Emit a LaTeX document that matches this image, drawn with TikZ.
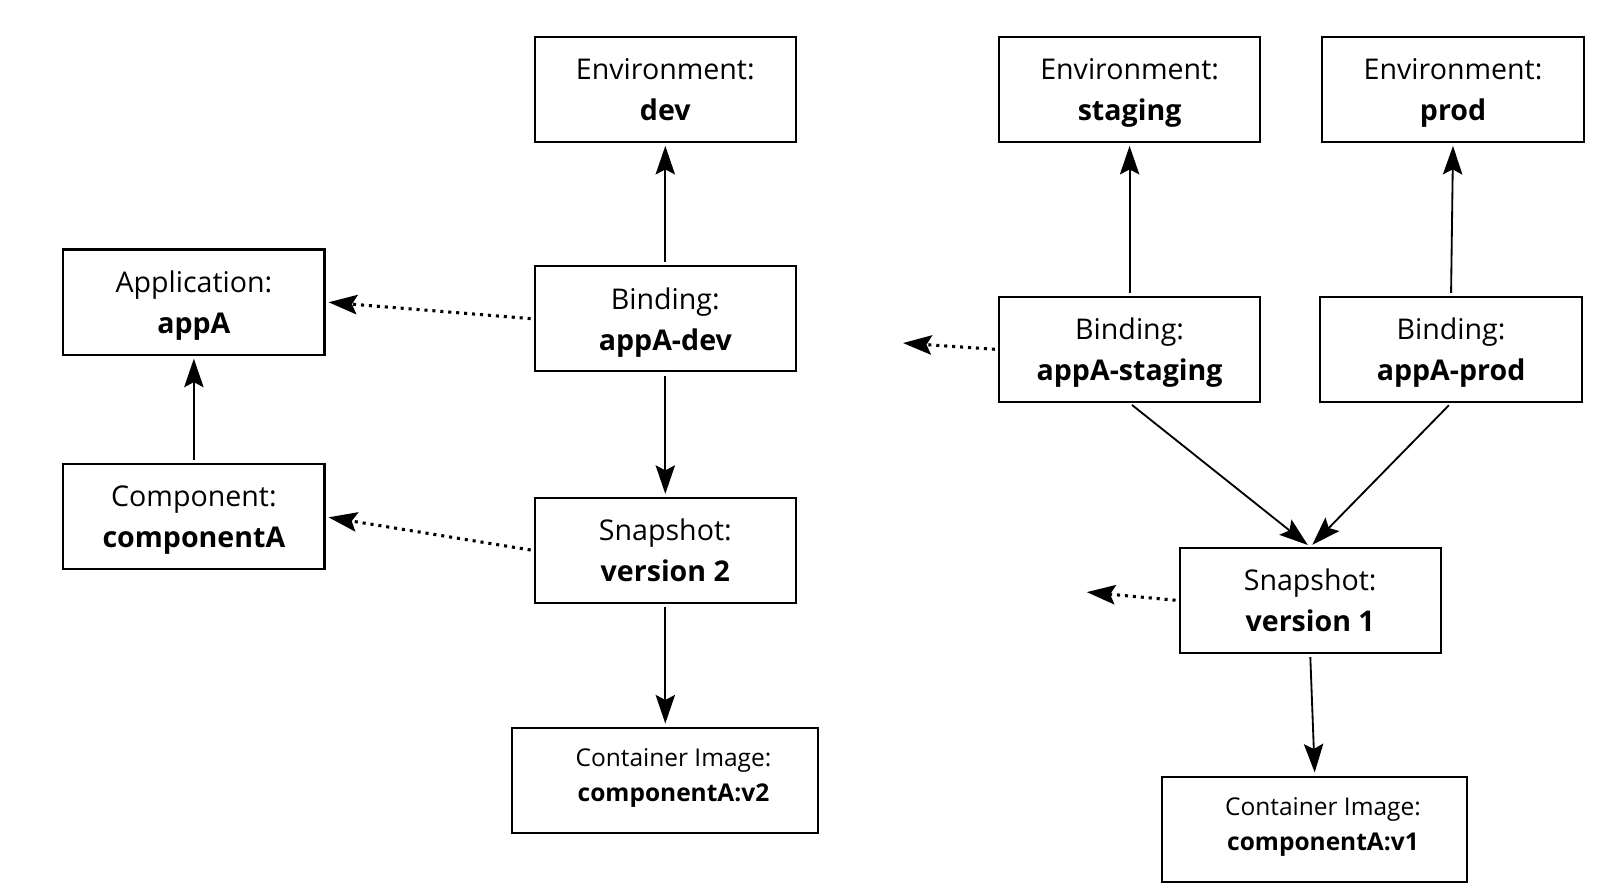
\documentclass[tikz,border=0pt]{standalone}
\usepackage{fontspec}
\setmainfont{Open Sans}
\usetikzlibrary{arrows.meta}
\tikzset{
	obj/.style={draw, line width=1pt, minimum width=128pt, minimum height=51.5pt, inner sep=0pt, align=center, text depth=0pt, font=\fontsize{14}{20}\selectfont},
	imgobj/.style={obj, minimum width=150pt, text depth=5pt, font=\fontsize{12}{17}\selectfont},
	ref/.style={-{Stealth[length=14pt,width=9.5pt,inset=2.5pt]}, line width=0.9pt, shorten >=1.5pt, shorten <=1.5pt},
	weakref/.style={ref, line width=1.5pt, dash pattern=on 1.5pt off 2.4pt}
}
\def\imgline#1{\hspace*{8pt}#1}

\begin{document}
\begin{tikzpicture}[x=0.5pt, y=-0.5pt]
			%%%%% START %%%%%
			\useasboundingbox (0, 0) rectangle (1568, 876);
			
			% dev side
			\node[obj] (envdev) at (652, 87.5) {Environment:\\\textbf{dev}};
			\node[obj] (app) at (190, 296) {Application:\\\textbf{appA}};
			\node[obj] (bdev) at (652, 312.5) {Binding:\\\textbf{appA-dev}};
			\node[obj] (comp) at (190, 506.5) {Component:\\\textbf{componentA}};
			\node[obj] (snap2) at (652, 539.5) {Snapshot:\\\textbf{version 2}};
			\node[imgobj] (img2) at (652, 764.5) {\imgline{Container Image:}\\\imgline{\textbf{componentA:v2}}};
			
			\draw[ref] (bdev) -- (envdev);
			\draw[ref] (comp) -- (app);
			\draw[ref] (bdev) -- (snap2);
			\draw[ref] (snap2) -- (img2);
			\draw[weakref] (bdev.west) -- (app.east);
			\draw[weakref] (snap2.west) -- (comp.east);
			
			% staging and prod side
			\node[obj] (envstag) at (1107, 87.5) {Environment:\\\textbf{staging}};
			\node[obj] (envprod) at (1424, 87.5) {Environment:\\\textbf{prod}};
			\node[obj] (bstag) at (1107, 342.5) {Binding:\\\textbf{appA-staging}};
			\node[obj] (bprod) at (1422, 342.5) {Binding:\\\textbf{appA-prod}};
			\node[obj] (snap1) at (1284, 588.5) {Snapshot:\\\textbf{version 1}};
			\node[imgobj, minimum width=149.5pt] (img1) at (1288.5, 812.5) {\imgline{Container Image:}\\\imgline{\textbf{componentA:v1}}};
			\coordinate (stagout) at (882, 336);
			\coordinate (v1out) at (1062, 580);
			
			\draw[ref] (bstag) -- (envstag);
			\draw[ref] (bprod.north) -- (envprod.south);
			\draw[ref] (bstag.south) -- (snap1.north);
			\draw[ref] (bprod.south) -- (snap1.north);
			\draw[ref] (snap1.south) -- (img1.north);
			\draw[weakref] (bstag.west) -- (stagout);
			\draw[weakref] (snap1.west) -- (v1out);
			%%%%% END %%%%%
\end{tikzpicture}
\end{document}
